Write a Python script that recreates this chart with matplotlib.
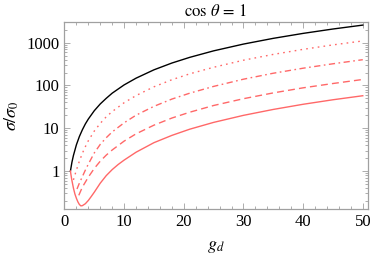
import matplotlib
matplotlib.use("Agg")
import matplotlib.pyplot as plt
from matplotlib.ticker import MultipleLocator, LogLocator, NullFormatter, FixedLocator, FixedFormatter

plt.rcParams['font.family'] = ['Liberation Serif', 'DejaVu Serif']
plt.rcParams['mathtext.fontset'] = 'stix'

# values
gd_black = [1, 1.25, 1.5, 2, 2.5, 3, 3.5, 4, 5, 6, 7, 8, 10, 12, 15, 18, 21, 25, 30, 35, 40, 45, 50]
y_black = [1, 1.6, 2.3, 4.1, 6.4, 9.2, 12.6, 16.4, 25.7, 37, 50, 66, 103, 148, 232, 334, 454,
           644, 927, 1262, 1648, 2086, 2575]

gd_dot = [1.5, 2, 2.5, 3, 3.5, 4, 5, 6, 7, 8, 10, 12, 15, 18, 21, 25, 30, 35, 40, 45, 50]
y_dot = [0.62, 1.05, 1.7, 2.6, 3.7, 5.1, 8.6, 13, 18.5, 24.5, 39.5, 58, 93, 136, 187,
         266, 389, 532, 698, 887, 1098]

gd_dashdot = [2.1, 2.5, 3, 3.5, 4, 5, 6, 7, 8, 10, 12, 15, 18, 21, 25, 30, 35, 40, 45, 50]
y_dashdot = [0.38, 0.52, 0.74, 1.05, 1.45, 2.65, 4.2, 6.0, 8.2, 13.4, 20.2, 32.5, 48, 66,
             95, 140, 193, 253, 321, 400]

gd_dash = [2.4, 3, 3.5, 4, 5, 6, 7, 8, 10, 12, 15, 18, 21, 25, 30, 35, 40, 45, 50]
y_dash = [0.27, 0.42, 0.55, 0.72, 1.15, 1.7, 2.35, 3.1, 5.0, 7.4, 11.8, 17.3, 23.7,
          34, 49, 67, 88, 111, 138]

gd_solid = [1, 1.1, 1.25, 1.5, 1.75, 2, 2.25, 2.5, 2.75, 3, 3.5, 4, 4.5, 5, 6, 7, 8, 9, 10, 12,
            15, 18, 21, 25, 30, 35, 40, 45, 50]
y_solid = [1.0, 0.8, 0.6, 0.4, 0.29, 0.23, 0.19, 0.165, 0.153, 0.155, 0.172, 0.205, 0.255,
           0.32, 0.52, 0.78, 1.08, 1.42, 1.8, 2.75, 4.6, 6.8, 9.5, 13.7, 20, 27.5, 36.3,
           46.3, 57.5]

ytick_vals = [1, 10, 100, 1000]
ytick_labels = ["1", "10", "100", "1000"]

red = "#ff6868"
frame = "#a0a0a0"

fig = plt.figure(figsize=(3.9, 2.64), dpi=100)
ax = fig.add_axes([0.163, 0.207, 0.781, 0.711])

ax.plot(gd_black, y_black, color="black", lw=1.0)
ax.plot(gd_dot, y_dot, color=red, lw=1.0, dashes=(1.2, 3.0))
ax.plot(gd_dashdot, y_dashdot, color=red, lw=1.0, dashes=(4.5, 2.5, 1.2, 2.5))
ax.plot(gd_dash, y_dash, color=red, lw=1.0, dashes=(5.0, 3.0))
ax.plot(gd_solid, y_solid, color=red, lw=1.0)

ax.set_yscale("log")
ax.set_xlim(-0.15, 50.9)
ax.set_ylim(0.127, 3100)

ax.xaxis.set_major_locator(MultipleLocator(10))
ax.xaxis.set_minor_locator(MultipleLocator(2))
ax.yaxis.set_major_locator(FixedLocator(ytick_vals))
ax.yaxis.set_major_formatter(FixedFormatter(ytick_labels))
ax.yaxis.set_minor_locator(LogLocator(base=10, subs=range(2, 10)))
ax.yaxis.set_minor_formatter(NullFormatter())

for s in ax.spines.values():
    s.set_color(frame)
    s.set_linewidth(0.9)
ax.tick_params(which="both", direction="in", color=frame, top=True, right=True,
               labelsize=12, width=0.6)
ax.tick_params(which="major", length=4, pad=3)
ax.tick_params(which="minor", length=2)

ax.set_title(r"$\cos\,\theta\, =\, 1$", fontsize=12, pad=4)
ax.set_xlabel(r"$g_d$", fontsize=13, labelpad=6)
ax.set_ylabel(r"$\sigma/\sigma_0$", fontsize=13, labelpad=4)

fig.savefig("out.png", dpi=100)
